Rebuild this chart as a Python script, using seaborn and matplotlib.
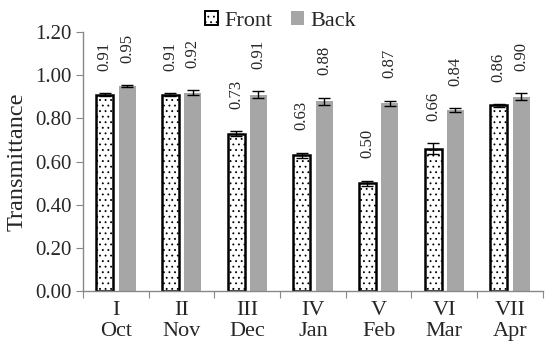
import numpy as np
import pandas as pd
import matplotlib
matplotlib.use("Agg")
import matplotlib.pyplot as plt
import seaborn as sns
from matplotlib.patches import Patch

# data
periods = ["I\nOct", "II\nNov", "III\nDec", "IV\nJan", "V\nFeb", "VI\nMar", "VII\nApr"]
front = [0.91, 0.91, 0.73, 0.63, 0.50, 0.66, 0.86]
back = [0.95, 0.92, 0.91, 0.88, 0.87, 0.84, 0.90]
front_err = [0.007, 0.007, 0.012, 0.012, 0.012, 0.025, 0.006]
back_err = [0.004, 0.012, 0.016, 0.016, 0.013, 0.008, 0.016]

sns.set_style("white")
plt.rcParams['font.family'] = ['Liberation Serif', 'DejaVu Serif']
plt.rcParams['hatch.linewidth'] = 0.6
serif = "Liberation Serif"

df = pd.DataFrame({
    "period": periods * 2,
    "side": ["Front"] * 7 + ["Back"] * 7,
    "value": front + back,
})

fig, ax = plt.subplots(figsize=(5.5, 3.49), dpi=100)
fig.subplots_adjust(left=0.151, right=0.987, bottom=0.166, top=0.908)

sns.barplot(data=df, x="period", y="value", hue="side",
            palette={"Front": "white", "Back": "#a6a6a6"},
            width=0.68, gap=0.24, errorbar=None, ax=ax, legend=False)

n = len(periods)
front_bars = ax.patches[:n]
back_bars = ax.patches[n:2 * n]
for p in front_bars:
    p.set_hatch("...")
    p.set_edgecolor("black")
    p.set_linewidth(1.8)
for p in back_bars:
    p.set_edgecolor("none")

for bars, vals, errs in [(front_bars, front, front_err), (back_bars, back, back_err)]:
    xs = [p.get_x() + p.get_width() / 2 for p in bars]
    ax.errorbar(xs, vals, yerr=errs, fmt="none", ecolor="black",
                elinewidth=1, capsize=4, capthick=1)
    for x, v, e in zip(xs, vals, errs):
        ax.annotate(f"{v:.2f}", (x, v + e), xytext=(0, 16), textcoords="offset points",
                    ha="center", va="bottom", rotation=90, fontsize=12, family=serif)

ax.set_ylim(0, 1.2)
ax.set_xlim(-0.5, n - 0.5)
yt = np.arange(0, 1.21, 0.2)
ax.set_yticks(yt)
ax.set_yticklabels([f"{t:.2f}" for t in yt], fontsize=15, family=serif)
ax.set_xticks(np.arange(n + 1) - 0.5)
ax.set_xticklabels([])
ax.set_xticks(range(n), labels=periods, minor=True, fontsize=16, family=serif)
ax.tick_params(axis="x", which="minor", length=0, pad=7)
ax.tick_params(axis="x", which="major", direction="out", length=5, color="#888888", bottom=True)
ax.tick_params(axis="y", direction="out", length=5, color="#888888", left=True, pad=3)
for lbl in ax.get_xticklabels(minor=True):
    lbl.set_linespacing(1.15)
ax.set_xlabel("")
ax.set_ylabel("Transmittance", fontsize=17.5, family=serif, labelpad=6)

sns.despine(ax=ax)
for s in ["left", "bottom"]:
    ax.spines[s].set_color("#888888")
    ax.spines[s].set_linewidth(1)

handles = [Patch(facecolor="white", edgecolor="black", hatch="...", linewidth=1.4, label="Front"),
           Patch(facecolor="#a6a6a6", edgecolor="none", label="Back")]
fig.legend(handles=handles, loc="upper center", bbox_to_anchor=(0.51, 1.025), ncol=2,
           frameon=False, prop={"family": serif, "size": 16}, handlelength=0.6, handleheight=0.6,
           handletextpad=0.3, columnspacing=0.8)

fig.savefig("out.png", dpi=100)
